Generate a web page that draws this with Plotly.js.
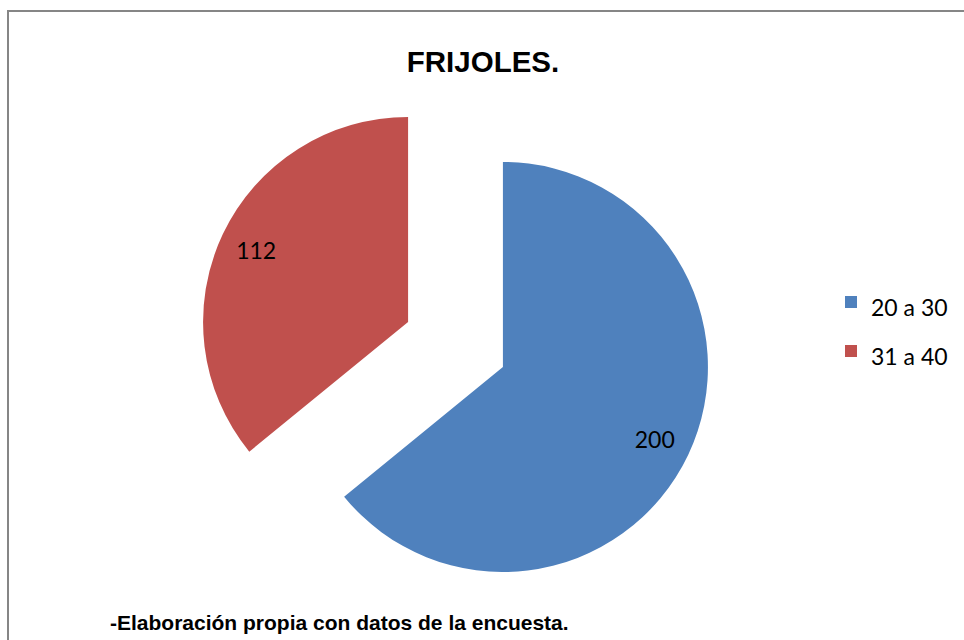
<!DOCTYPE html>
<html>
<head>
<meta charset="utf-8">
<script src="https://cdn.plot.ly/plotly-3.0.1.min.js"></script>
<style>html,body{margin:0;padding:0;background:#fff;}#chart{width:964px;height:640px;}</style>
</head>
<body>
<div id="chart"></div>
<script>
const categories = ["20 a 30", "31 a 40"];
const values = [200, 112];
const sliceColors = ["#4F81BD", "#C0504D"];
const chartTitle = "FRIJOLES.";
const sourceNote = "-Elaboración propia con datos de la encuesta.";

const W = 964, H = 640;
const pieDomain = {x: [198 / W, 713 / W], y: [1 - 602 / H, 1 - 87 / H]};
const pulls = values.map(() => 0.256);
const labelFont = {family: "Lato, 'Open Sans', sans-serif", size: 23, color: "#000"};

const pieTrace = {
  type: "pie",
  labels: categories.map(c => '<span style="font-size:23px">' + c + '</span>'),
  values: values,
  sort: false,
  direction: "clockwise",
  rotation: 0,
  pull: pulls,
  marker: {colors: sliceColors, line: {width: 0}},
  textinfo: "none",
  domain: pieDomain,
  hoverinfo: "label+value+percent"
};

// transparent ring overlay: carries the value labels toward the outer part of each slice
const labelTrace = {
  type: "pie",
  labels: categories,
  values: values,
  sort: false,
  direction: "clockwise",
  rotation: 0,
  pull: pulls,
  hole: 0.64,
  marker: {colors: values.map(() => "rgba(0,0,0,0)"), line: {width: 0}},
  textinfo: "value",
  textposition: "inside",
  insidetextorientation: "horizontal",
  textfont: labelFont,
  domain: pieDomain,
  showlegend: false,
  hoverinfo: "skip"
};

const layout = {
  width: W, height: H,
  margin: {l: 0, r: 0, t: 0, b: 0},
  paper_bgcolor: "#fff",
  plot_bgcolor: "#fff",
  title: {
    text: chartTitle,
    x: 483 / W, xanchor: "center",
    y: 1 - 62 / H, yanchor: "middle",
    font: {family: "'Liberation Sans', Arial, sans-serif", size: 29.5, color: "#000", weight: "bold"}
  },
  showlegend: true,
  legend: {
    x: 831 / W, xanchor: "left",
    y: 1 - 327 / H, yanchor: "middle",
    font: {family: "Lato, 'Open Sans', sans-serif", size: 35.4, color: "#000"},
    bgcolor: "rgba(0,0,0,0)"
  },
  annotations: [{
    text: sourceNote,
    xref: "paper", yref: "paper",
    x: 108 / W, xanchor: "left",
    y: 1 - 622 / H, yanchor: "middle",
    showarrow: false,
    font: {family: "'Liberation Sans', Arial, sans-serif", size: 21, color: "#000", weight: "bold"}
  }],
  shapes: [{
    type: "rect", xref: "paper", yref: "paper",
    x0: 8 / W, x1: 1.05, y0: -0.05, y1: 1 - 11 / H,
    line: {color: "#868686", width: 2},
    fillcolor: "rgba(0,0,0,0)"
  }]
};

Plotly.newPlot("chart", [pieTrace, labelTrace], layout, {displayModeBar: false, staticPlot: true});
</script>
</body>
</html>
